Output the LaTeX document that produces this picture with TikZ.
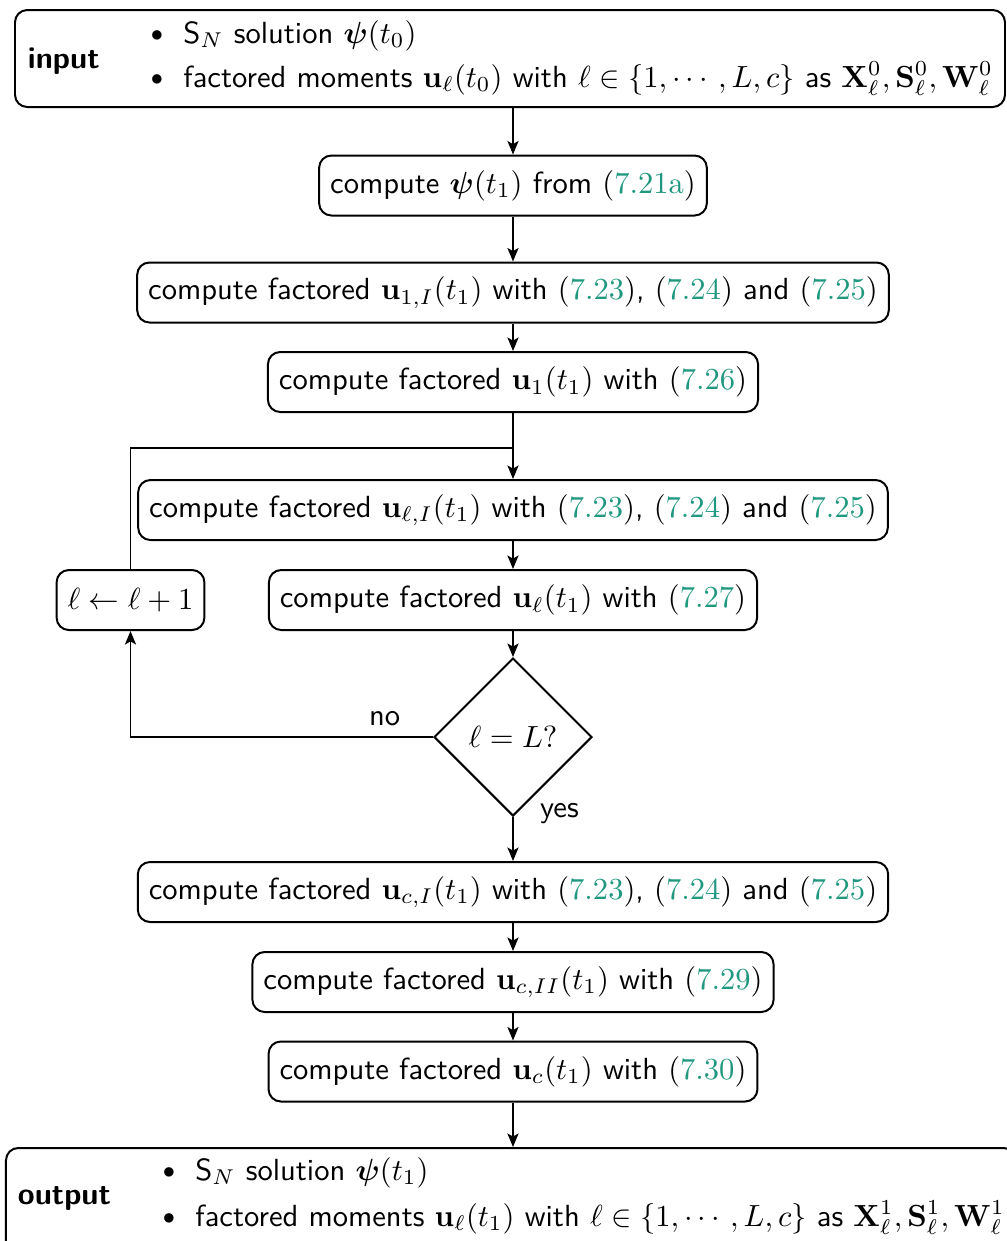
\documentclass[tikz,border=0pt]{standalone}
\usepackage{amsmath,amssymb}
\usetikzlibrary{arrows.meta,shapes.geometric}
\definecolor{linkc}{RGB}{32,152,128}
% equation references: roman parentheses, coloured number
\newcommand{\eqr}[1]{{\rmfamily(\textcolor{linkc}{#1})}}
\newcommand{\bul}{\makebox[10.6pt][l]{\raisebox{0.5pt}{\scalebox{0.8}{$\bullet$}}}}
\def\pxu{0.327pt}
\begin{document}
\begin{tikzpicture}[x=\pxu, y=-\pxu,
  line width=0.65pt,
  stepbox/.style={draw, rounded corners=4pt, font=\sffamily,
    minimum height=60*\pxu, inner xsep=3.6pt},
  bigbox/.style={draw, rounded corners=4pt},
  txt/.style={font=\sffamily, inner sep=0pt, anchor=base west},
  arr/.style={-{Stealth[length=4.4pt, width=3.6pt, inset=1pt]}},
  test/.style={draw, diamond, shape aspect=1, font=\sffamily,
    minimum width=158*\pxu, minimum height=158*\pxu, inner sep=0pt}]
\useasboundingbox (0,0) rectangle (1007,1241);

% input block
\node[bigbox, minimum width=990*\pxu, minimum height=97*\pxu] (in) at (510,58.5) {};
\node[txt, font=\sffamily\bfseries] (inlbl) at (27,68) {input};
\node[txt] (in1) at (150,43) {\bul S$_N$ solution $\boldsymbol{\psi}(t_0)$};
\node[txt] (in2) at (150,87) {\bul factored moments $\mathbf{u}_\ell(t_0)$ with $\ell\in\{1,\cdots,L,c\}$ as $\mathbf{X}^0_\ell,\mathbf{S}^0_\ell,\mathbf{W}^0_\ell$};

% steps
\node[stepbox] (psi) at (513,185.5) {compute $\boldsymbol{\psi}(t_1)$ from \eqr{7.21a}};
\node[stepbox] (u1I) at (513,292.5) {compute factored $\mathbf{u}_{1,I}(t_1)$ with \eqr{7.23}, \eqr{7.24} and \eqr{7.25}};
\node[stepbox] (u1) at (513,382) {compute factored $\mathbf{u}_1(t_1)$ with \eqr{7.26}};
\coordinate (j) at (513,448);
\node[stepbox] (ulI) at (513,510) {compute factored $\mathbf{u}_{\ell,I}(t_1)$ with \eqr{7.23}, \eqr{7.24} and \eqr{7.25}};
\node[stepbox] (ul) at (513,600) {compute factored $\mathbf{u}_\ell(t_1)$ with \eqr{7.27}};
\node[stepbox] (inc) at (130.5,600) {$\ell\leftarrow\ell+1$};
\node[test] (chk) at (513,737) {$\ell=L?$};
\node[stepbox] (ucI) at (513,892) {compute factored $\mathbf{u}_{c,I}(t_1)$ with \eqr{7.23}, \eqr{7.24} and \eqr{7.25}};
\node[stepbox] (ucII) at (513,982) {compute factored $\mathbf{u}_{c,II}(t_1)$ with \eqr{7.29}};
\node[stepbox] (uc) at (513,1071.5) {compute factored $\mathbf{u}_c(t_1)$ with \eqr{7.30}};

% output block
\node[bigbox, minimum width=1010*\pxu, minimum height=110*\pxu, anchor=north west] (out) at (5,1147) {};
\node[txt, font=\sffamily\bfseries] (outlbl) at (17,1204) {output};
\node[txt] (out1) at (162,1180) {\bul S$_N$ solution $\boldsymbol{\psi}(t_1)$};
\node[txt] (out2) at (162,1226) {\bul factored moments $\mathbf{u}_\ell(t_1)$ with $\ell\in\{1,\cdots,L,c\}$ as $\mathbf{X}^1_\ell,\mathbf{S}^1_\ell,\mathbf{W}^1_\ell$};

% connectors
\draw[arr] (in.south -| psi) -- (psi);
\draw[arr] (psi) -- (u1I);
\draw[arr] (u1I) -- (u1);
\draw (u1) -- (j);
\draw[arr] (j) -- (ulI);
\draw (inc.north) |- (j);
\draw[arr] (ulI) -- (ul);
\draw[arr] (ul) -- (chk);
\draw[arr] (chk.west) -| node[pos=0.08, above, font=\sffamily] (no) {no} (inc.south);
\draw[arr] (chk.south) -- node[pos=0, anchor=base west, xshift=16*\pxu, font=\sffamily] (yes) {yes} (ucI);
\draw[arr] (ucI) -- (ucII);
\draw[arr] (ucII) -- (uc);
\draw[arr] (uc) -- (out.north -| uc);
\end{tikzpicture}
\end{document}
